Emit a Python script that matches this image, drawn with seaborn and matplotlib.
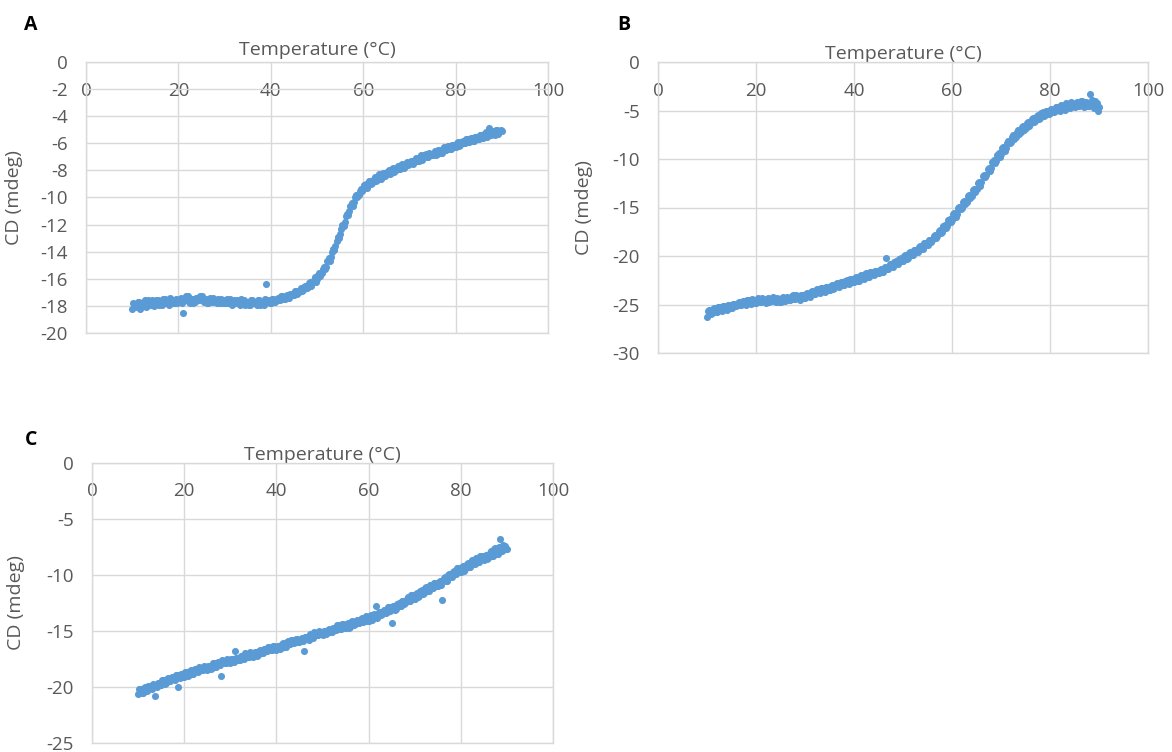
import numpy as np
import pandas as pd
import matplotlib
matplotlib.use("Agg")
import matplotlib.pyplot as plt
import seaborn as sns

# temperature scans: two interleaved reads, 0.5 C apart each
temps_1 = np.arange(10, 90.5, 0.5)      # 10.0 ... 90.0
temps_2 = np.arange(10.25, 90, 0.5)     # 10.25 ... 89.75

cd_a_1 = [
    -18.2, -17.9, -18.1, -17.7, -18.0, -17.8, -18.1, -17.6, -17.9, -17.8,
    -17.9, -17.6, -17.8, -17.9, -17.5, -17.7, -17.9, -17.6, -17.8, -17.5,
    -17.7, -17.4, -18.5, -17.6, -17.3, -17.8, -17.5, -17.7, -17.4, -17.6,
    -17.3, -17.7, -17.5, -17.8, -17.6, -17.4, -17.7, -17.5, -17.8, -17.6,
    -17.8, -17.5, -17.7, -17.9, -17.6, -17.7, -17.8, -17.5, -17.7, -17.9,
    -17.7, -17.9, -17.6, -17.8, -17.9, -17.6, -17.7, -17.9, -16.4, -17.6,
    -17.8, -17.5, -17.7, -17.4, -17.6, -17.3, -17.5, -17.2, -17.4, -17.1,
    -17.2, -16.9, -17.0, -16.7, -16.8, -16.5, -16.6, -16.2, -16.3, -15.9,
    -16.0, -15.6, -15.6, -15.1, -15.1, -14.5, -14.4, -13.8, -13.6, -12.9,
    -12.7, -12.0, -11.8, -11.2, -11.0, -10.4, -10.3, -9.8, -9.8, -9.4,
    -9.4, -9.0, -9.1, -8.8, -8.9, -8.5, -8.7, -8.3, -8.5, -8.2,
    -8.3, -8.0, -8.2, -7.8, -8.0, -7.7, -7.9, -7.5, -7.7, -7.4,
    -7.5, -7.3, -7.4, -7.1, -7.3, -6.9, -7.1, -6.8, -7.0, -6.8,
    -6.9, -6.6, -6.8, -6.5, -6.7, -6.3, -6.5, -6.2, -6.4, -6.1,
    -6.3, -5.9, -6.1, -5.8, -6.0, -5.7, -5.9, -5.6, -5.8, -5.5,
    -5.7, -5.4, -5.6, -5.2, -5.4, -5.3, -5.1, -5.4, -5.0, -5.2,
    -5.1,
]
cd_a_2 = [
    -17.8, -18.0, -17.7, -18.2, -17.9, -17.6, -18.0, -17.8, -17.6, -18.0,
    -17.6, -17.9, -17.7, -17.5, -17.8, -17.6, -17.4, -17.8, -17.6, -17.8,
    -17.5, -17.8, -17.6, -17.3, -17.7, -17.5, -17.8, -17.4, -17.6, -17.3,
    -17.6, -17.5, -17.8, -17.4, -17.7, -17.5, -17.8, -17.6, -17.5, -17.8,
    -17.6, -17.8, -17.5, -17.7, -17.8, -17.6, -17.9, -17.7, -17.6, -17.8,
    -17.9, -17.6, -17.8, -17.7, -17.6, -17.9, -17.8, -17.5, -17.7, -17.8,
    -17.5, -17.7, -17.5, -17.6, -17.3, -17.5, -17.3, -17.4, -17.1, -17.2,
    -16.9, -17.1, -16.8, -16.9, -16.6, -16.7, -16.3, -16.5, -16.1, -16.2,
    -15.7, -15.8, -15.3, -15.3, -14.7, -14.7, -14.0, -13.9, -13.2, -13.0,
    -12.3, -12.1, -11.4, -11.3, -10.6, -10.6, -10.0, -10.0, -9.5, -9.5,
    -9.1, -9.3, -8.8, -9.0, -8.6, -8.8, -8.4, -8.6, -8.2, -8.4,
    -8.1, -8.3, -7.9, -8.1, -7.8, -7.9, -7.6, -7.8, -7.5, -7.6,
    -7.3, -7.5, -7.2, -7.3, -7.0, -7.2, -6.9, -7.0, -6.7, -6.9,
    -6.7, -6.9, -6.5, -6.7, -6.4, -6.5, -6.2, -6.4, -6.1, -6.3,
    -6.0, -6.2, -5.9, -6.0, -5.7, -5.9, -5.6, -5.8, -5.5, -5.7,
    -5.4, -5.6, -5.3, -5.5, -4.9, -5.4, -5.2, -5.0, -5.3, -5.0,
]

cd_b_1 = [
    -26.3, -25.6, -25.9, -25.4, -25.8, -25.3, -25.7, -25.2, -25.6, -25.1,
    -25.4, -24.9, -25.2, -24.7, -25.1, -24.6, -25.0, -24.5, -24.9, -24.6,
    -24.8, -24.3, -24.7, -24.4, -24.8, -24.3, -24.6, -24.2, -24.7, -24.4,
    -24.7, -24.2, -24.6, -24.3, -24.5, -24.0, -24.4, -24.1, -24.5, -24.0,
    -24.3, -23.8, -24.2, -23.6, -23.9, -23.4, -23.8, -23.3, -23.7, -23.2,
    -23.5, -23.0, -23.3, -22.8, -23.2, -22.7, -23.0, -22.5, -22.9, -22.4,
    -22.7, -22.2, -22.6, -22.0, -22.4, -21.8, -22.2, -21.6, -22.0, -21.5,
    -21.8, -21.3, -21.6, -20.2, -21.3, -20.8, -21.1, -20.5, -20.8, -20.2,
    -20.5, -19.9, -20.2, -19.6, -19.9, -19.4, -19.6, -19.0, -19.3, -18.7,
    -18.9, -18.3, -18.4, -17.8, -17.9, -17.3, -17.5, -16.8, -16.9, -16.2,
    -16.3, -15.6, -15.7, -14.9, -15.0, -14.3, -14.4, -13.7, -13.8, -13.1,
    -13.1, -12.4, -12.4, -11.6, -11.6, -10.9, -10.9, -10.1, -10.2, -9.4,
    -9.5, -8.8, -8.9, -8.1, -8.2, -7.5, -7.7, -7.0, -7.2, -6.6,
    -6.8, -6.2, -6.4, -5.8, -6.1, -5.5, -5.8, -5.2, -5.5, -5.0,
    -5.3, -4.9, -5.1, -4.6, -5.0, -4.5, -4.9, -4.3, -4.7, -4.3,
    -4.6, -4.1, -4.5, -4.0, -4.6, -4.2, -4.5, -3.9, -4.7, -4.2,
    -4.6,
]
cd_b_2 = [
    -25.7, -26.0, -25.5, -25.8, -25.3, -25.6, -25.2, -25.5, -25.0, -25.4,
    -24.9, -25.2, -24.8, -25.1, -24.6, -24.9, -24.5, -24.8, -24.4, -24.8,
    -24.5, -24.7, -24.3, -24.6, -24.4, -24.7, -24.3, -24.6, -24.3, -24.7,
    -24.3, -24.6, -24.2, -24.5, -24.1, -24.4, -24.0, -24.3, -24.0, -24.3,
    -23.9, -24.1, -23.7, -23.9, -23.5, -23.7, -23.3, -23.6, -23.2, -23.5,
    -23.1, -23.4, -22.9, -23.1, -22.7, -23.0, -22.6, -22.8, -22.4, -22.7,
    -22.3, -22.6, -22.1, -22.3, -21.9, -22.2, -21.7, -21.9, -21.5, -21.8,
    -21.4, -21.6, -21.1, -21.3, -20.8, -21.0, -20.6, -20.7, -20.3, -20.5,
    -20.0, -20.3, -19.7, -19.9, -19.4, -19.6, -19.1, -19.3, -18.7, -18.9,
    -18.4, -18.6, -17.9, -18.1, -17.4, -17.6, -16.9, -17.1, -16.3, -16.5,
    -15.7, -16.0, -15.1, -15.2, -14.4, -14.6, -13.8, -14.0, -13.2, -13.4,
    -12.5, -12.8, -11.8, -11.9, -11.0, -11.2, -10.3, -10.4, -9.6, -9.8,
    -8.9, -9.2, -8.3, -8.4, -7.7, -7.9, -7.2, -7.4, -6.7, -7.0,
    -6.3, -6.6, -5.9, -6.2, -5.6, -5.9, -5.3, -5.6, -5.0, -5.4,
    -4.8, -5.2, -4.6, -4.9, -4.4, -4.8, -4.2, -4.6, -4.1, -4.5,
    -4.2, -4.5, -4.0, -4.4, -4.1, -4.5, -3.3, -4.4, -4.0, -5.0,
]

cd_c_1 = [
    -20.6, -20.2, -20.5, -20.0, -20.4, -19.9, -20.2, -19.8, -20.0, -19.6,
    -19.8, -19.4, -19.6, -19.2, -19.5, -19.1, -19.4, -18.9, -19.2, -18.8,
    -19.1, -18.7, -18.9, -18.5, -18.8, -18.4, -18.7, -18.3, -18.5, -18.2,
    -18.5, -18.1, -18.3, -17.9, -18.2, -17.8, -19.0, -17.7, -17.9, -17.6,
    -17.9, -17.5, -16.8, -17.4, -17.6, -17.2, -17.5, -17.1, -17.3, -17.0,
    -17.3, -16.9, -17.1, -16.7, -17.0, -16.6, -16.8, -16.4, -16.7, -16.3,
    -16.7, -16.3, -16.5, -16.1, -16.4, -15.9, -16.2, -15.8, -16.0, -15.7,
    -16.0, -15.6, -16.8, -15.5, -15.8, -15.3, -15.6, -15.2, -15.4, -15.1,
    -15.4, -15.0, -15.2, -14.8, -15.1, -14.7, -14.9, -14.5, -14.8, -14.4,
    -14.7, -14.3, -14.6, -14.1, -14.4, -14.0, -14.3, -13.8, -14.1, -13.7,
    -14.1, -13.6, -13.8, -12.8, -13.7, -13.3, -13.5, -13.1, -13.3, -12.9,
    -14.3, -12.8, -13.0, -12.5, -12.8, -12.3, -12.5, -12.0, -12.3, -11.8,
    -12.1, -11.6, -11.9, -11.3, -11.6, -11.1, -11.4, -10.9, -11.2, -10.7,
    -11.0, -10.5, -12.2, -10.2, -10.5, -9.9, -10.2, -9.6, -9.9, -9.4,
    -9.7, -9.2, -9.5, -8.9, -9.3, -8.7, -9.0, -8.5, -8.8, -8.3,
    -8.7, -8.2, -8.5, -7.9, -8.3, -7.6, -8.1, -6.8, -7.9, -7.4,
    -7.7,
]
cd_c_2 = [
    -20.2, -20.5, -20.1, -20.3, -19.9, -20.1, -19.7, -20.8, -19.6, -19.8,
    -19.4, -19.7, -19.3, -19.5, -19.1, -19.3, -18.9, -20.0, -18.8, -19.1,
    -18.7, -19.0, -18.6, -18.8, -18.4, -18.6, -18.2, -18.5, -18.1, -18.4,
    -18.1, -18.4, -17.9, -18.2, -17.8, -18.0, -17.6, -17.9, -17.5, -17.8,
    -17.5, -17.8, -17.4, -17.6, -17.2, -17.4, -17.0, -17.3, -16.9, -17.2,
    -16.9, -17.2, -16.8, -17.0, -16.6, -16.8, -16.4, -16.7, -16.3, -16.6,
    -16.3, -16.6, -16.2, -16.4, -16.0, -16.2, -15.8, -16.1, -15.7, -16.0,
    -15.7, -15.9, -15.5, -15.7, -15.3, -15.5, -15.1, -15.4, -15.0, -15.3,
    -15.0, -15.3, -14.9, -15.1, -14.7, -14.9, -14.5, -14.8, -14.4, -14.7,
    -14.4, -14.7, -14.2, -14.5, -14.1, -14.3, -13.9, -14.2, -13.8, -14.1,
    -13.7, -14.0, -13.5, -13.8, -13.3, -13.6, -13.1, -13.4, -12.9, -13.2,
    -12.8, -13.1, -12.6, -12.8, -12.3, -12.6, -12.1, -12.3, -11.8, -12.1,
    -11.7, -12.0, -11.4, -11.7, -11.2, -11.4, -10.9, -11.2, -10.7, -11.0,
    -10.6, -10.9, -10.3, -10.5, -10.0, -10.2, -9.7, -9.9, -9.4, -9.7,
    -9.3, -9.6, -9.0, -9.3, -8.8, -9.0, -8.5, -8.8, -8.3, -8.6,
    -8.3, -8.6, -8.0, -8.3, -7.7, -8.1, -7.5, -7.9, -7.3, -7.7,
]

# letter, scans, y range, y step, axes box in px (left, top, right, bottom),
# letter position px, y-label centre x px, x-label pad
panels = [
    ("A", cd_a_1, cd_a_2, (0, -20), 2, (86, 62, 548, 333), (31, 25), 23, 5),
    ("B", cd_b_1, cd_b_2, (0, -30), 5, (658, 62, 1148, 353), (624, 25), 593, 2),
    ("C", cd_c_1, cd_c_2, (0, -25), 5, (92, 463, 553, 743), (31, 440), 25, 2),
]

sns.set_style("white")
plt.rcParams['font.family'] = ['Open Sans', 'DejaVu Sans']

grey = "#d9d9d9"
text_grey = "#595959"
blue = "#5b9bd5"

W, H = 1172, 752
fig = plt.figure(figsize=(W / 100, H / 100), dpi=100)

for letter, scan1, scan2, (ytop, ybot), ystep, (l, t, r, b), (lx, ly), ylab_x, xpad in panels:
    ax = fig.add_axes([l / W, 1 - b / H, (r - l) / W, (b - t) / H])
    df = pd.concat([
        pd.DataFrame({"temp": temps_1, "cd": scan1}),
        pd.DataFrame({"temp": temps_2, "cd": scan2}),
    ])
    sns.scatterplot(data=df, x="temp", y="cd", ax=ax, color=blue,
                    s=26, edgecolor=None, linewidth=0, zorder=3)

    ax.set_xlim(0, 100)
    ax.set_ylim(ybot, ytop)
    ax.set_xticks(range(0, 101, 20))
    yt = np.arange(ybot, ytop + 0.1, ystep)
    ax.set_yticks(yt)
    ax.set_yticklabels([str(int(v)) for v in yt])

    ax.grid(True, color=grey, linewidth=1)
    ax.set_axisbelow(True)
    for sp in ax.spines.values():
        sp.set_color(grey)
        sp.set_linewidth(1)

    # x axis crosses at y = 0 (top edge), labels sit just inside
    ax.xaxis.tick_top()
    ax.xaxis.set_label_position("top")
    ax.tick_params(axis="x", length=0, pad=-27, labelsize=13.5, labelcolor=text_grey)
    ax.tick_params(axis="y", length=0, pad=13, labelsize=13.5, labelcolor=text_grey)

    ax.set_xlabel("Temperature (°C)", fontsize=14, color=text_grey, labelpad=xpad)
    ax.set_ylabel("CD (mdeg)", fontsize=14, color=text_grey)
    ax.yaxis.set_label_coords(-(l - ylab_x) / (r - l), 0.5)

    fig.text(lx / W, 1 - ly / H, letter, fontsize=14, fontweight="bold",
             ha="center", va="center", color="black")

fig.savefig("out.png", dpi=100)
